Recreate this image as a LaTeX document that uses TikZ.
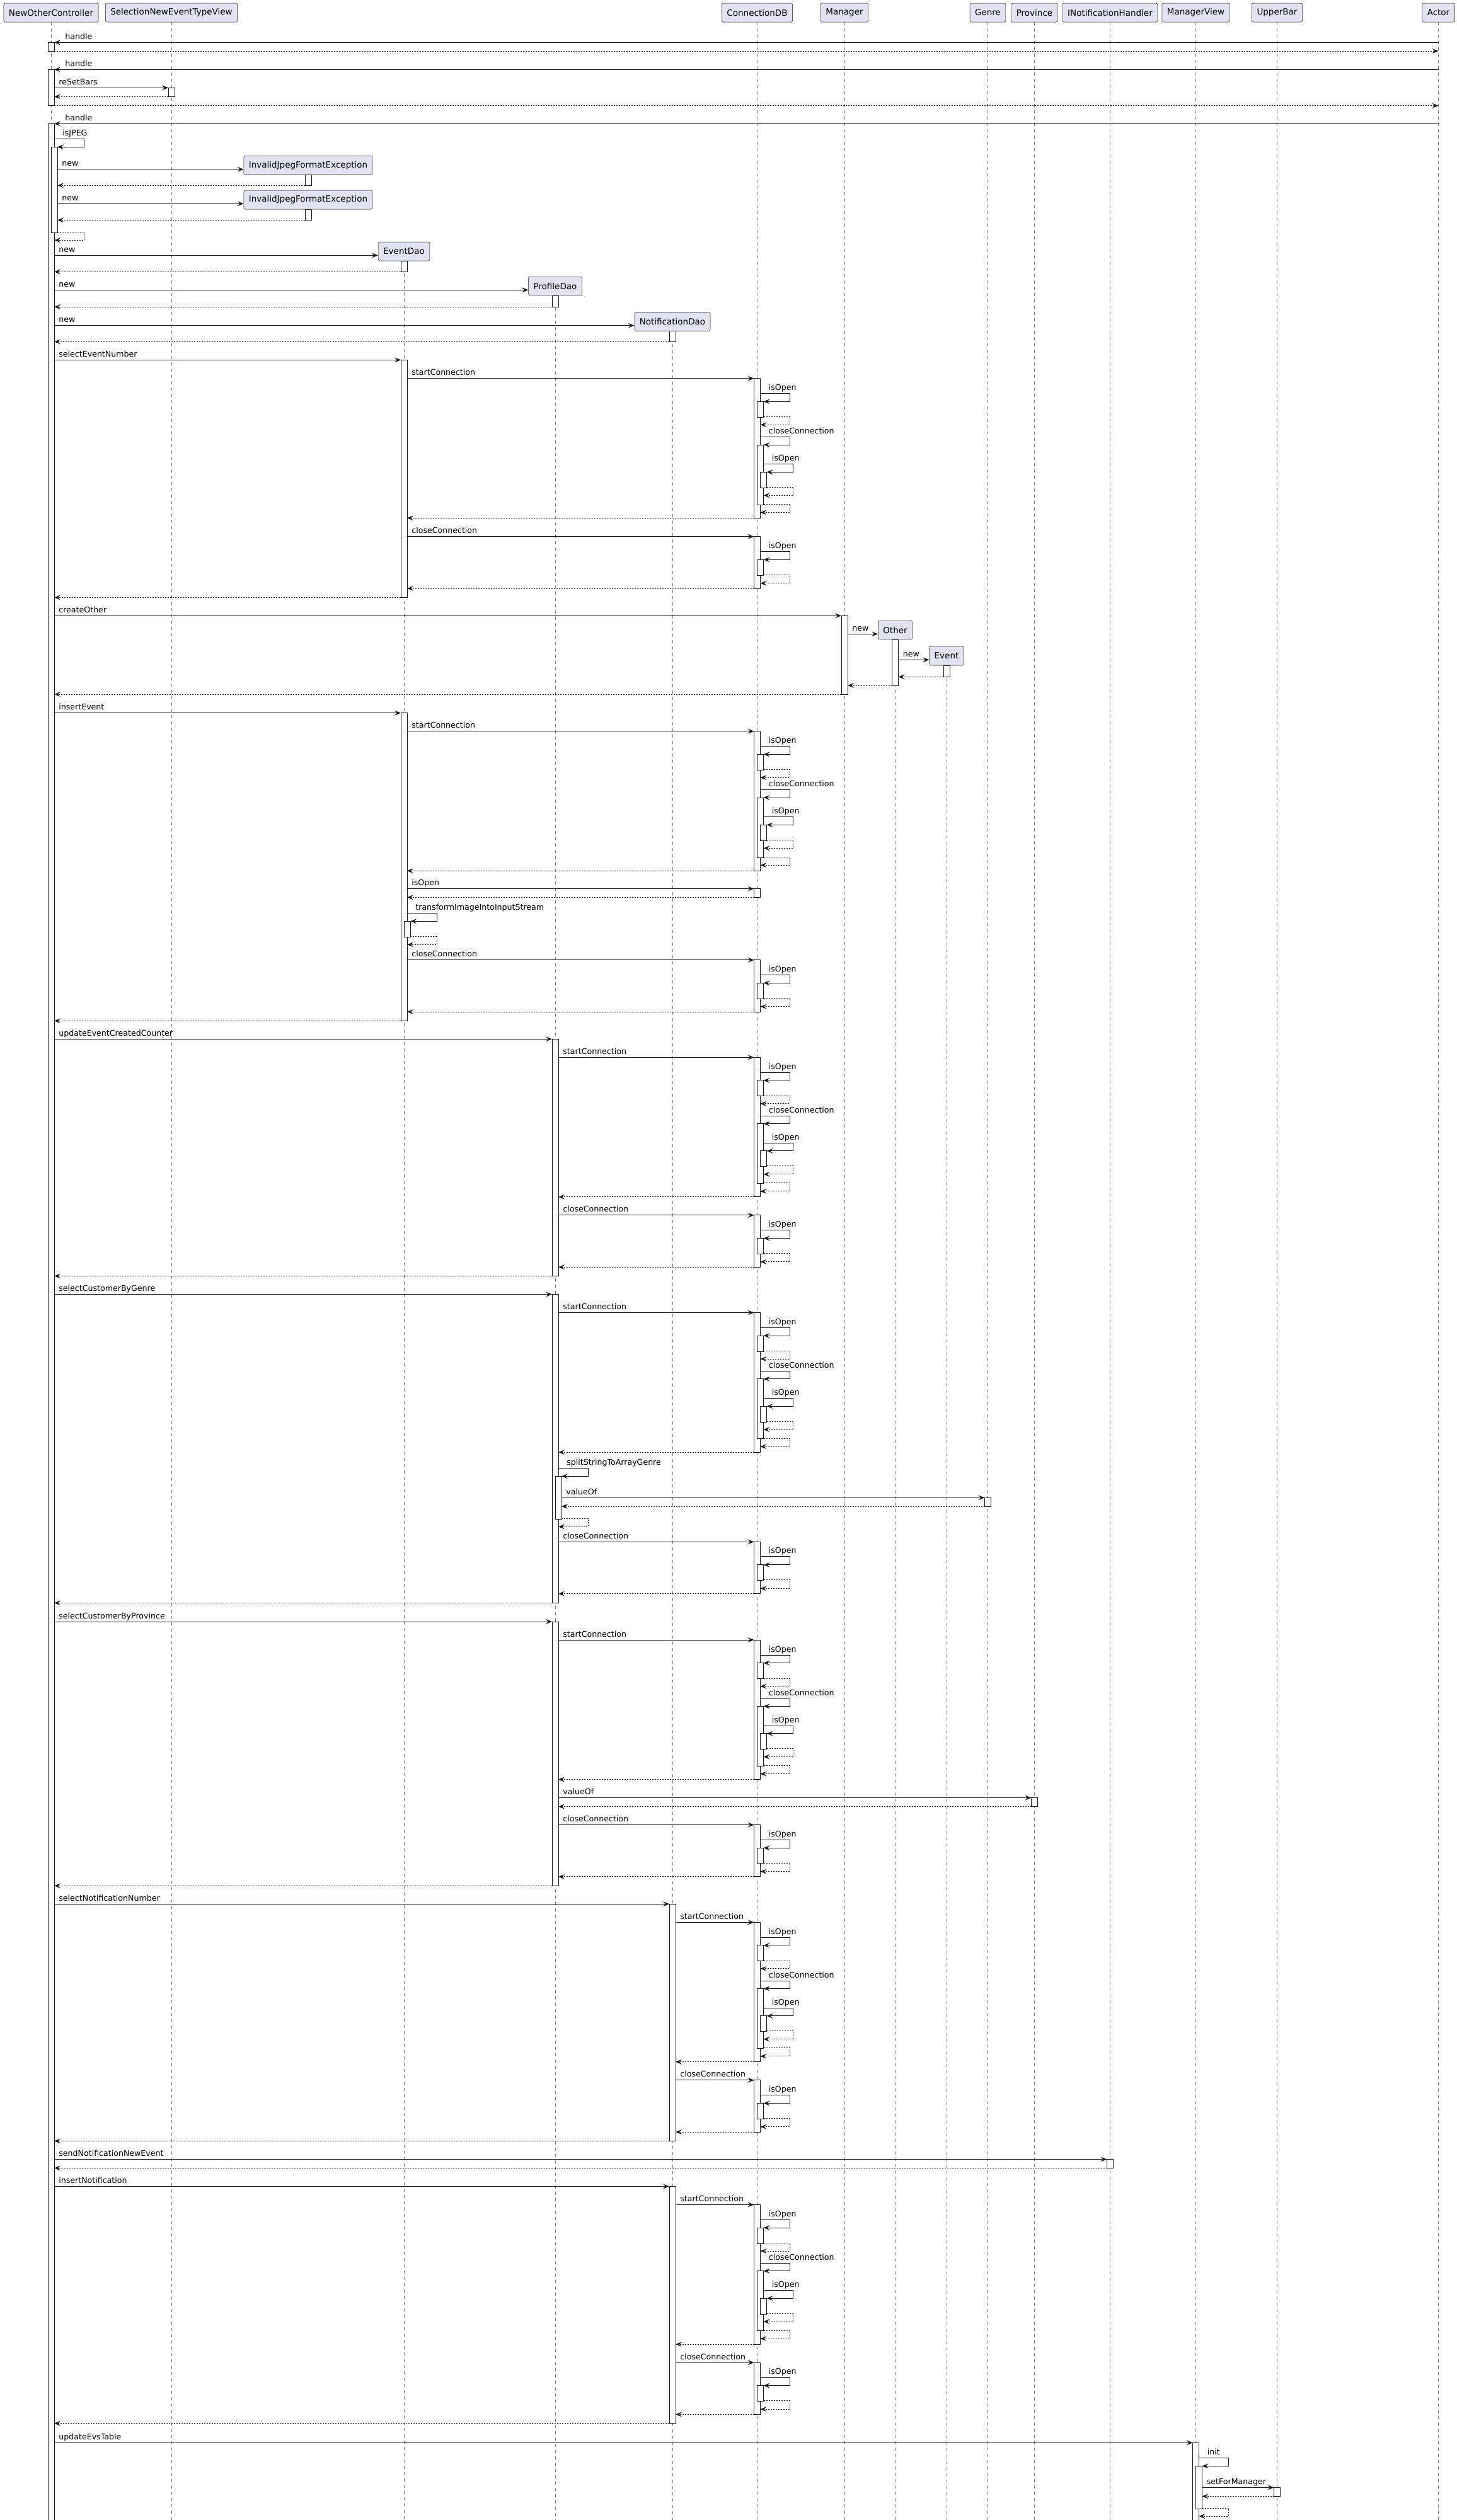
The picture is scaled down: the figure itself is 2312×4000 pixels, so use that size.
\documentclass[tikz,border=0pt]{standalone}
\usepackage{fontspec}
\newfontfamily\dvs{DejaVu Sans}
\usetikzlibrary{arrows.meta}
\definecolor{c18}{HTML}{181818}
\definecolor{partfill}{HTML}{E2E2F0}
\pgfdeclarelayer{bg}
\pgfdeclarelayer{lifel}
\pgfdeclarelayer{actl}
\pgfsetlayers{bg,lifel,actl,main}
\newcounter{msg}
\newcommand\partfont{\dvs\fontsize{6.75}{8}\selectfont}
\newcommand\msgfont{\dvs\fontsize{6.3}{7.5}\selectfont}
\tikzset{
  part/.style={draw=c18, line width=0.25pt, fill=partfill, rounded corners=1.25pt,
    minimum height=15pt, inner xsep=4pt, inner ysep=0pt, font=\partfont, text=black},
  lifeline/.style={draw=black!55, line width=0.5pt, dash pattern=on 2.5pt off 2.5pt},
  actbox/.style={draw=c18, fill=white, line width=0.5pt},
  msgline/.style={draw=c18, line width=0.5pt, -{Stealth[length=5pt,width=4pt,inset=2pt]}},
  retline/.style={msgline, dash pattern=on 1pt off 1pt},
  msglabel/.style={inner sep=0pt, font=\msgfont, text=black}
}
\newcommand\nm{\stepcounter{msg}\edef\mn{\arabic{msg}}}
\newcommand\act[3]{\begin{pgfonlayer}{actl}\draw[actbox] ({#1},{#2}) rectangle ({#1+10},{#3});\end{pgfonlayer}}
% rightward call: x1, x2, y, label
\newcommand\call[4]{\nm
  \coordinate (ma\mn) at ({#1},{#3});
  \coordinate (mb\mn) at ({#2},{#3});
  \draw[msgline] (ma\mn) -- (mb\mn);
  \node[msglabel,anchor=base west] (ml\mn) at ({#1+7},{#3-5}) {#4};}
% leftward call: x1 (right), x2 (left), y, label
\newcommand\lcall[4]{\nm
  \coordinate (ma\mn) at ({#1},{#3});
  \coordinate (mb\mn) at ({#2},{#3});
  \draw[msgline] (ma\mn) -- (mb\mn);
  \node[msglabel,anchor=base west] (ml\mn) at ({#2+17},{#3-5}) {#4};}
% return: from x1, to x2, y
\newcommand\ret[3]{\nm
  \coordinate (ma\mn) at ({#1},{#3});
  \coordinate (mb\mn) at ({#2},{#3});
  \draw[retline] (ma\mn) -- (mb\mn);}
% self call: origin right x, ytop, ybot, label, nested right x
\newcommand\selfcall[5]{\nm
  \coordinate (ma\mn) at ({#1},{#2});
  \coordinate (mc\mn) at ({#1+47},{#2});
  \coordinate (md\mn) at ({#1+47},{#3});
  \coordinate (mb\mn) at ({#5},{#3});
  \draw[msgline] (ma\mn) -- (mc\mn) -- (md\mn) -- (mb\mn);
  \node[msglabel,anchor=base west] (ml\mn) at ({#1+13},{#2-5}) {#4};}
% self return: nested right x, ytop, ybot, origin right x
\newcommand\selfret[4]{\nm
  \coordinate (ma\mn) at ({#1},{#2});
  \coordinate (mc\mn) at ({#4+47},{#2});
  \coordinate (md\mn) at ({#4+47},{#3});
  \coordinate (mb\mn) at ({#4},{#3});
  \draw[retline] (ma\mn) -- (mc\mn) -- (md\mn) -- (mb\mn);}
% create message: x1, node, y
\newcommand\newmsg[3]{\nm
  \coordinate (ma\mn) at ({#1},{#3});
  \draw[msgline] (ma\mn) -- (#2.west |- ma\mn);
  \node[msglabel,anchor=base west] (ml\mn) at ({#1+7},{#3-5}) {new};}
% ConnectionDB startConnection block
\newcommand\startblock[2]{\def\sY{#2}%
  \act{1196.5}{\sY}{\sY+221.6}%
  \act{1201.5}{\sY+36.6}{\sY+61.6}%
  \act{1201.5}{\sY+105.3}{\sY+200.3}%
  \act{1206.5}{\sY+148.6}{\sY+173.6}%
  \call{#1}{1196.5}{\sY}{startConnection}%
  \selfcall{1206.5}{\sY+24}{\sY+36.6}{isOpen}{1211.5}%
  \selfret{1211.5}{\sY+61}{\sY+73.6}{1206.5}%
  \selfcall{1206.5}{\sY+93}{\sY+105.3}{closeConnection}{1211.5}%
  \selfcall{1211.5}{\sY+136}{\sY+148.6}{isOpen}{1216.5}%
  \selfret{1216.5}{\sY+172.6}{\sY+185.6}{1211.5}%
  \selfret{1211.5}{\sY+199.6}{\sY+212.6}{1206.5}%
  \ret{1196.5}{#1}{\sY+221.6}}
% ConnectionDB closeConnection block
\newcommand\closeblock[2]{\def\cY{#2}%
  \act{1196.5}{\cY}{\cY+82.3}%
  \act{1201.5}{\cY+36.6}{\cY+61.3}%
  \call{#1}{1196.5}{\cY}{closeConnection}%
  \selfcall{1206.5}{\cY+23.6}{\cY+36.6}{isOpen}{1211.5}%
  \selfret{1211.5}{\cY+60.6}{\cY+74}{1206.5}%
  \ret{1196.5}{#1}{\cY+82.3}}

\begin{document}
\begin{tikzpicture}[x=0.5pt,y=-0.5pt]
\useasboundingbox (0,0) rectangle (2312,4000);
\begin{pgfonlayer}{bg}
\fill[white] (0,0) rectangle (2312,4000);
\end{pgfonlayer}

% header participants
\node[part] (NOC) at (81,20) {NewOtherController};
\node[part] (SEL) at (272,20) {SelectionNewEventTypeView};
\node[part] (CDB) at (1201.5,20) {ConnectionDB};
\node[part] (MGR) at (1340,20) {Manager};
\node[part] (GEN) at (1567.5,20) {Genre};
\node[part] (PRV) at (1641.5,20) {Province};
\node[part] (INH) at (1761.5,20) {INotificationHandler};
\node[part] (MVW) at (1897.5,20) {ManagerView};
\node[part] (UPB) at (2026.5,20) {UpperBar};
\node[part] (ACT) at (2282.5,20) {Actor};

% created participants
\node[part] (IJ1) at (489,262.5) {InvalidJpegFormatException};
\node[part] (IJ2) at (489,317.1) {InvalidJpegFormatException};
\node[part] (ED) at (641,399.1) {EventDao};
\node[part] (PD) at (881,454.1) {ProfileDao};
\node[part] (ND) at (1067,510.5) {NotificationDao};
\node[part] (OT) at (1420.5,1000.1) {Other};
\node[part] (EV) at (1502,1041.1) {Event};

\begin{pgfonlayer}{lifel}
\foreach \n in {NOC,SEL,CDB,MGR,GEN,PRV,INH,MVW,UPB,ACT,ED,PD,ND,OT,EV}
  \draw[lifeline] (\n.south) -- (\n.south |- 0,4000);
\end{pgfonlayer}

% NewOtherController activations
\act{76}{67.3}{81}
\act{76}{110.3}{167.7}
\act{76}{196.3}{4010}
\act{81}{233.3}{369}

\lcall{2282.5}{86}{67.3}{handle}
\ret{86}{2282.5}{81}
\lcall{2282.5}{86}{110.3}{handle}
\act{267}{139.3}{153.3}
\call{86}{267}{139.3}{reSetBars}
\ret{267}{86}{153.3}
\ret{86}{2282.5}{167.7}
\lcall{2282.5}{86}{196.3}{handle}
\selfcall{86}{220.7}{233.3}{isJPEG}{91}
\newmsg{91}{IJ1}{268.7}
\act{484}{277.5}{294.3}
\ret{484}{91}{294.3}
\newmsg{91}{IJ2}{323.3}
\act{484}{332.1}{349.3}
\ret{484}{91}{349.3}
\selfret{91}{368.7}{381.3}{86}
\newmsg{86}{ED}{405.3}
\act{636}{414.1}{431.3}
\ret{636}{86}{431.3}
\newmsg{86}{PD}{460.3}
\act{876}{469.1}{487}
\ret{876}{86}{487}
\newmsg{86}{ND}{516.7}
\act{1062}{525.5}{542.3}
\ret{1062}{86}{542.3}

% selectEventNumber
\act{636}{571.3}{948.3}
\call{86}{636}{571.3}{selectEventNumber}
\startblock{646}{600.7}
\closeblock{646}{851.7}
\ret{636}{86}{948.3}

% createOther
\act{1335}{977.3}{1102}
\call{86}{1335}{977.3}{createOther}
\newmsg{1345}{OT}{1006.3}
\act{1415.5}{1015.1}{1088}
\newmsg{1425.5}{EV}{1047.3}
\act{1497}{1056.1}{1074.3}
\ret{1497}{1425.5}{1074.3}
\ret{1415.5}{1345}{1088}
\ret{1335}{86}{1102}

% insertEvent
\act{636}{1131.7}{1620.3}
\call{86}{636}{1131.7}{insertEvent}
\startblock{646}{1160.7}
\act{1196.5}{1410.7}{1424.3}
\call{646}{1196.5}{1410.7}{isOpen}
\ret{1196.5}{646}{1424.3}
\act{641}{1462.3}{1487.3}
\selfcall{646}{1449.7}{1462.3}{transformImageIntoInputStream}{651}
\selfret{651}{1486.7}{1499.3}{646}
\closeblock{646}{1523.7}
\ret{636}{86}{1620.3}

% updateEventCreatedCounter
\act{876}{1649.3}{2025.5}
\call{86}{876}{1649.3}{updateEventCreatedCounter}
\startblock{886}{1678.3}
\closeblock{886}{1928.9}
\ret{876}{86}{2025.5}

% selectCustomerByGenre
\act{876}{2054.5}{2544.3}
\call{86}{876}{2054.5}{selectCustomerByGenre}
\startblock{886}{2083.5}
\act{881}{2343.3}{2411}
\selfcall{886}{2330.3}{2343.3}{splitStringToArrayGenre}{891}
\act{1562.5}{2377.3}{2391}
\call{891}{1562.5}{2377.3}{valueOf}
\ret{1562.5}{891}{2391}
\selfret{891}{2410.3}{2423.3}{886}
\closeblock{886}{2447.3}
\ret{876}{86}{2544.3}

% selectCustomerByProvince
\act{876}{2574}{2993.2}
\call{86}{876}{2574}{selectCustomerByProvince}
\startblock{886}{2603}
\act{1636.5}{2853.6}{2867.6}
\call{886}{1636.5}{2853.6}{valueOf}
\ret{1636.5}{886}{2867.6}
\closeblock{886}{2896.6}
\ret{876}{86}{2993.2}

% selectNotificationNumber
\act{1062}{3022.2}{3398.4}
\call{86}{1062}{3022.2}{selectNotificationNumber}
\startblock{1072}{3051.2}
\closeblock{1072}{3301.8}
\ret{1062}{86}{3398.4}

% sendNotificationNewEvent
\act{1756.5}{3427.4}{3441.4}
\call{86}{1756.5}{3427.4}{sendNotificationNewEvent}
\ret{1756.5}{86}{3441.4}

% insertNotification
\act{1062}{3470.4}{3846.6}
\call{86}{1062}{3470.4}{insertNotification}
\startblock{1072}{3499.4}
\closeblock{1072}{3750}
\ret{1062}{86}{3846.6}

% updateEvsTable
\act{1892.5}{3877.3}{4010}
\call{86}{1892.5}{3877.3}{updateEvsTable}
\act{1897.5}{3914.3}{3982.3}
\selfcall{1902.5}{3901.3}{3914.3}{init}{1907.5}
\act{2021.5}{3948.3}{3962.3}
\call{1907.5}{2021.5}{3948.3}{setForManager}
\ret{2021.5}{1907.5}{3962.3}
\selfret{1907.5}{3981.3}{3994}{1902.5}
\end{tikzpicture}
\end{document}
